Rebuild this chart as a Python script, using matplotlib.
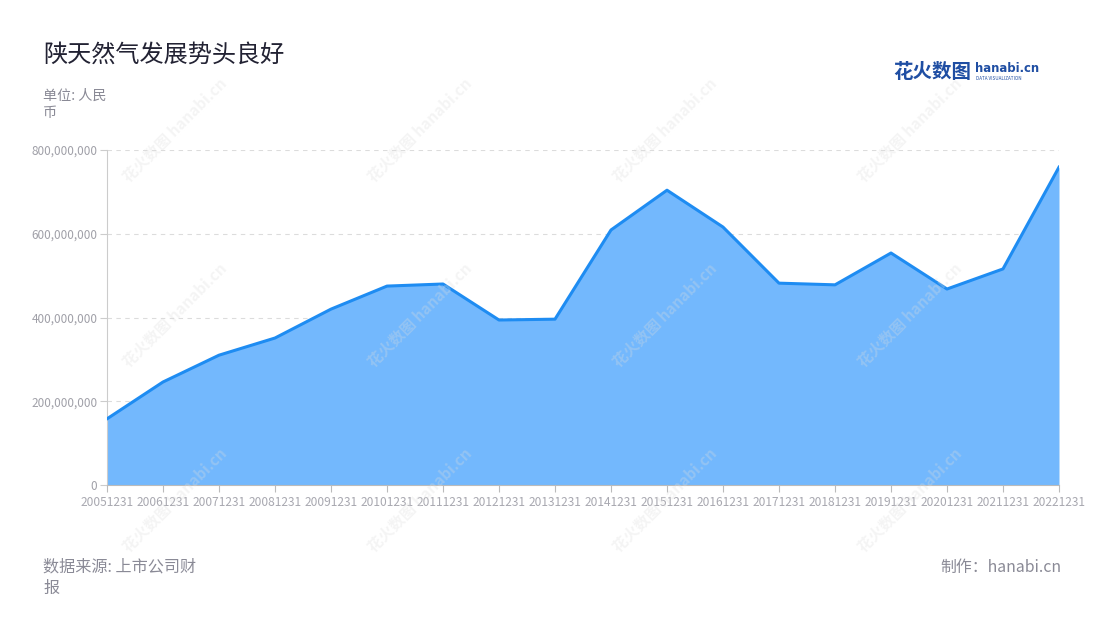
import matplotlib
matplotlib.use("Agg")
import matplotlib.pyplot as plt
from matplotlib.ticker import FuncFormatter

plt.rcParams['font.family'] = ['Noto Sans CJK SC', 'DejaVu Sans']

categories = ["20051231", "20061231", "20071231", "20081231", "20091231", "20101231",
              "20111231", "20121231", "20131231", "20141231", "20151231", "20161231",
              "20171231", "20181231", "20191231", "20201231", "20211231", "20221231"]
values = [158e6, 246e6, 310e6, 351e6, 420e6, 475e6,
          480e6, 394e6, 396e6, 609e6, 704e6, 616e6,
          482e6, 478e6, 554e6, 468e6, 516e6, 759e6]
yticks = [0, 200e6, 400e6, 600e6, 800e6]

fig = plt.figure(figsize=(11, 6.2), dpi=100)
ax = fig.add_axes([107/1100, 1-485/620, (1059-107)/1100, (485-150)/620])

x = list(range(len(categories)))
ax.fill_between(x, values, 0, color="#73b8fd", linewidth=0, zorder=2)
ax.plot(x, values, color="#1e8cf2", linewidth=2.2, zorder=3, solid_joinstyle='round')

ax.set_xlim(0, len(categories)-1)
ax.set_ylim(0, 800e6)
ax.set_yticks(yticks)
ax.yaxis.set_major_formatter(FuncFormatter(lambda v, p: f"{int(v):,}"))
ax.set_xticks(x)
ax.set_xticklabels(categories)

ax.grid(axis='y', color="#dcdcdc", linestyle=(0, (4, 4)), linewidth=0.8, zorder=1)
for s in ['top', 'right']:
    ax.spines[s].set_visible(False)
ax.spines['left'].set_color("#cccccc")
ax.spines['bottom'].set_color("#bbbbbb")
ax.tick_params(axis='y', colors="#cccccc", labelcolor="#a0a0a8", labelsize=8.5, length=5, width=0.8, pad=2)
ax.tick_params(axis='x', colors="#bbbbbb", labelcolor="#a8a8b0", labelsize=8.6, length=5, width=0.8, pad=3)

# watermarks
for wx in [175, 420, 665, 910]:
    for wy in [130, 315, 500]:
        fig.text(wx/1100, 1-wy/620, "花火数图 hanabi.cn", rotation=45, ha='center', va='center',
                 fontsize=11, color="#dddddd", alpha=0.3, zorder=10, fontweight='bold')

fig.text(43/1100, 1-55/620, "陕天然气发展势头良好", fontsize=17.4, color="#222233", ha='left', va='center')
fig.text(43/1100, 1-96/620, "单位: 人民", fontsize=10.2, color="#8a8a96", ha='left', va='center')
fig.text(43/1100, 1-113/620, "币", fontsize=10.2, color="#8a8a96", ha='left', va='center')

fig.text(43/1100, 1-567/620, "数据来源: 上市公司财", fontsize=11.6, color="#8a8a96", ha='left', va='center')
fig.text(43/1100, 1-588/620, "报", fontsize=11.6, color="#8a8a96", ha='left', va='center')
fig.text(1061/1100, 1-567/620, "制作：hanabi.cn", fontsize=11.4, color="#8a8a96", ha='right', va='center')

# logo
fig.text(893/1100, 1-72/620, "花火数图", fontsize=14, color="#1f4ea3", ha='left', va='center', fontweight='bold')
fig.text(975/1100, 1-69/620, "hanabi.cn", fontsize=8.4, color="#1f4ea3", ha='left', va='center', fontweight='bold',
         family=['DejaVu Sans'])
fig.text(976/1100, 1-79/620, "DATA VISUALIZATION", fontsize=3.3, color="#1f4ea3", ha='left', va='center')

fig.savefig("out.png", dpi=100)
